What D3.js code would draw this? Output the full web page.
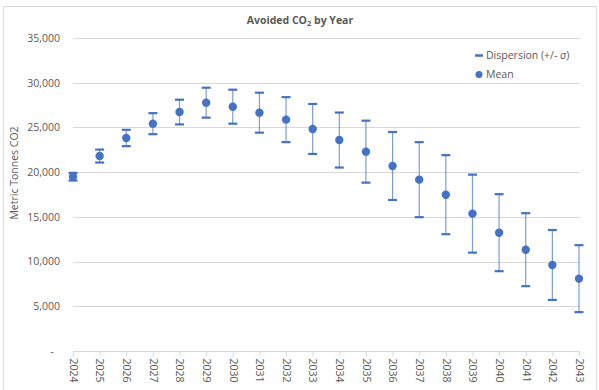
<!DOCTYPE html>
<html>
<head>
<meta charset="utf-8">
<script src="https://cdn.jsdelivr.net/npm/d3@7"></script>
<style>
  body { margin: 0; background: #fff; }
  text { font-family: "Open Sans", sans-serif; fill: #595959; }
</style>
</head>
<body>
<div id="chart"></div>
<script>
const years = ["2024", "2025", "2026", "2027", "2028", "2029", "2030", "2031", "2032", "2033",
               "2034", "2035", "2036", "2037", "2038", "2039", "2040", "2041", "2042", "2043"];
const meanValues = [19490, 21800, 23820, 25420, 26720, 27770, 27320, 26650, 25870, 24830,
                    23590, 22290, 20690, 19160, 17480, 15360, 13230, 11330, 9620, 8090];
const sigmaValues = [430, 725, 915, 1175, 1380, 1675, 1900, 2235, 2515, 2795,
                     3075, 3465, 3800, 4195, 4420, 4360, 4305, 4080, 3910, 3745];
const yTicks = [0, 5000, 10000, 15000, 20000, 25000, 30000, 35000];

const width = 599;
const height = 390;
const marginTop = 38;
const marginRight = 20;
const marginBottom = 39;
const marginLeft = 73;
const blue = "#4472C4";

const data = years.map((yr, i) => ({year: yr, mean: meanValues[i], sd: sigmaValues[i]}));

const x = d3.scalePoint()
    .domain(years)
    .range([marginLeft, 579]);

const y = d3.scaleLinear()
    .domain([0, 35000])
    .range([height - marginBottom, marginTop]);

const svg = d3.select("#chart").append("svg")
    .attr("width", width)
    .attr("height", height);

// chart frame
svg.append("rect")
    .attr("x", 3.5)
    .attr("y", 6.5)
    .attr("width", 593)
    .attr("height", 400)
    .attr("fill", "none")
    .attr("stroke", "#d9d9d9");

// grid lines
svg.selectAll(".grid")
    .data(yTicks.filter(d => d > 0))
    .enter()
    .append("line")
    .attr("class", "grid")
    .attr("x1", marginLeft)
    .attr("x2", 580)
    .attr("y1", d => Math.round(y(d)) + 0.5)
    .attr("y2", d => Math.round(y(d)) + 0.5)
    .attr("stroke", "#d9d9d9");

// y axis labels
const yAxis = svg.append("g")
    .attr("transform", `translate(${marginLeft},0)`)
    .call(d3.axisLeft(y)
        .tickValues(yTicks)
        .tickSize(0)
        .tickPadding(13)
        .tickFormat(d => d === 0 ? "-" : d3.format(",")(d)));
yAxis.select(".domain").remove();
yAxis.selectAll("text")
    .attr("font-size", 10.5)
    .attr("fill", "#595959")
    .style("font-family", "'Open Sans', sans-serif");
yAxis.selectAll("text").filter(d => d === 0).attr("dx", -6);

// x axis
const xAxis = svg.append("g")
    .attr("transform", `translate(0,${Math.round(y(0)) + 0.5})`)
    .call(d3.axisBottom(x).tickSize(5).tickSizeOuter(0));
xAxis.select(".domain")
    .attr("stroke", "#d9d9d9")
    .attr("d", `M${marginLeft},0H580`);
xAxis.selectAll(".tick line").attr("stroke", "#d9d9d9");
xAxis.selectAll("text")
    .attr("font-size", 10.5)
    .attr("fill", "#595959")
    .style("font-family", "'Open Sans', sans-serif")
    .attr("transform", "rotate(90)")
    .attr("text-anchor", "start")
    .attr("x", 7)
    .attr("y", 0)
    .attr("dy", "0.35em");

// error bars
const bars = svg.append("g");
bars.selectAll(".stem")
    .data(data)
    .enter()
    .append("line")
    .attr("x1", d => x(d.year))
    .attr("x2", d => x(d.year))
    .attr("y1", d => y(d.mean + d.sd))
    .attr("y2", d => y(d.mean - d.sd))
    .attr("stroke", blue)
    .attr("stroke-opacity", 0.7)
    .attr("stroke-width", 1.2);

[1, -1].forEach(sign => {
    bars.selectAll(".cap" + sign)
        .data(data)
        .enter()
        .append("line")
        .attr("x1", d => x(d.year) - 4.5)
        .attr("x2", d => x(d.year) + 4.5)
        .attr("y1", d => y(d.mean + sign * d.sd))
        .attr("y2", d => y(d.mean + sign * d.sd))
        .attr("stroke", blue)
        .attr("stroke-width", 2.2);
});

// mean markers
svg.append("g")
    .selectAll("circle")
    .data(data)
    .enter()
    .append("circle")
    .attr("cx", d => x(d.year))
    .attr("cy", d => y(d.mean))
    .attr("r", 4.2)
    .attr("fill", blue);

// title
const title = svg.append("text")
    .attr("x", 300)
    .attr("y", 24)
    .attr("text-anchor", "middle")
    .attr("font-size", 10.5)
    .attr("font-weight", "bold")
    .attr("fill", "#595959");
title.append("tspan").text("Avoided CO");
title.append("tspan").attr("font-size", 7.5).attr("dy", 1.5).text("2");
title.append("tspan").attr("dy", -1.5).text(" by Year");

// y axis title
svg.append("text")
    .attr("transform", "translate(18,173) rotate(-90)")
    .attr("text-anchor", "middle")
    .attr("font-size", 10.5)
    .attr("fill", "#595959")
    .text("Metric Tonnes CO2");

// legend
const legend = svg.append("g");
legend.append("line")
    .attr("x1", 475)
    .attr("x2", 483)
    .attr("y1", 55.5)
    .attr("y2", 55.5)
    .attr("stroke", blue)
    .attr("stroke-width", 2.5);
const legText = legend.append("text")
    .attr("x", 486)
    .attr("y", 59)
    .attr("font-size", 10.5)
    .attr("fill", "#595959");
legText.append("tspan").text("Dispersion (+/- ");
legText.append("tspan").attr("font-style", "italic").text("σ");
legText.append("tspan").text(")");

legend.append("circle")
    .attr("cx", 479)
    .attr("cy", 74.5)
    .attr("r", 3.5)
    .attr("fill", blue);
legend.append("text")
    .attr("x", 486)
    .attr("y", 78)
    .attr("font-size", 10.5)
    .attr("fill", "#595959")
    .text("Mean");
</script>
</body>
</html>
